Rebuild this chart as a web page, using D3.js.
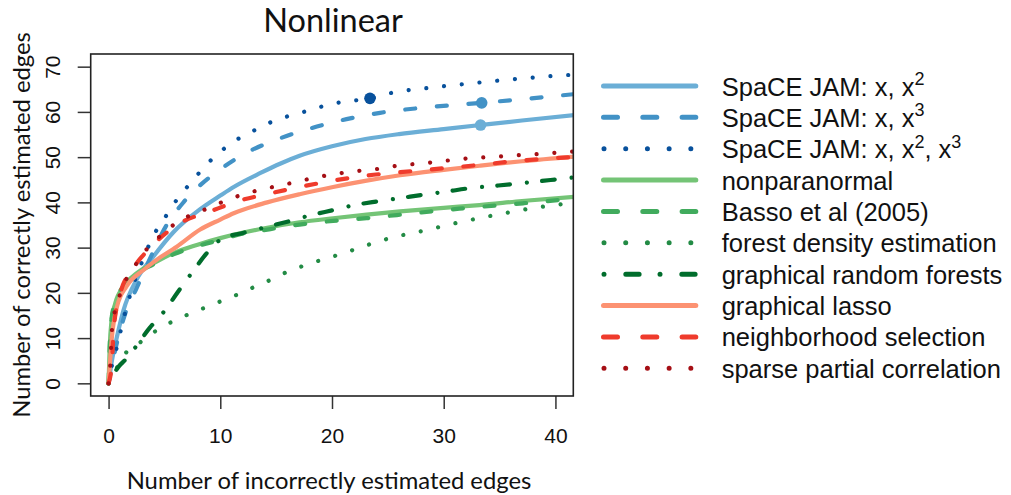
<!DOCTYPE html>
<html>
<head>
<meta charset="utf-8">
<script src="https://cdn.jsdelivr.net/npm/d3@7"></script>
<style>
  html, body { margin: 0; padding: 0; background: #fff; }
  svg { display: block; }
</style>
</head>
<body>
<svg id="chart" width="1011" height="495"></svg>
<script>
// ---- data: [false edges, true edges] along each method's path ----
const jam12 = [[0,0],[0.3,5],[0.75,10.3],[1.34,16.2],[2.5,22.9],[4,28],[5.8,33.4],[8.2,38.5],[10,41.5],[11.2,43.4],[13.6,46.5],[15.4,48.6],[17.1,50.3],[20,52.4],[23,54],[26,55.1],[30,56.2],[33.3,57.1],[37,58.1],[42,59.4]];
const jam13 = [[0,0],[0.6,7.4],[1.5,15.5],[2.5,21],[3.6,27],[5.2,35],[6.7,40],[8.2,43.8],[10,47.3],[12,50.5],[15.4,54.2],[18,56.3],[21.3,58.4],[24.3,59.8],[28,60.9],[33.4,62],[37,62.8],[42,64]];
const jam123 = [[0,0],[0.3,4],[0.75,8.1],[1.1,11.8],[1.5,15.8],[1.9,19.3],[3,26.9],[4.3,33.9],[5.2,37.2],[6.05,40.4],[7.1,43.6],[8.1,46.5],[9.2,49.4],[10.3,51.8],[11.7,54.2],[13.1,56],[14.5,57.7],[16,59],[17.6,60.1],[19.1,61.2],[20.7,62.1],[23.4,63],[25.3,64.2],[29,65.4],[33.2,66.5],[37,67.4],[42,68.3]];
const nonparanormal = [[0,0],[0.1,8],[0.25,13.5],[0.6,17.7],[1.34,21.4],[2.5,24.3],[4,26.5],[5.8,28.8],[7.9,30.6],[10,32.1],[14.2,34.4],[17.1,35.6],[20.1,36.5],[23.1,37.3],[26.1,38],[30,38.8],[33.2,39.4],[37,40.3],[42,41.3]];
const basso = [[0,0],[0.1,8],[0.25,14],[0.6,18],[1.34,21.5],[2.5,24.2],[4,26.3],[5.8,28.5],[7.9,30.3],[10,31.7],[11.7,32.9],[14.5,34.1],[17.1,35.1],[20.1,35.9],[23.1,36.5],[25.8,37.2],[31.4,38.6],[37.1,39.8],[42,40.9]];
const forestDensity = [[0,0],[0.9,4.1],[1.6,6.9],[2.5,8.4],[3.3,10],[4.5,12],[5.9,13.9],[7.4,15.5],[8.9,17],[10.3,18.4],[11.8,19.9],[13.2,21.5],[14.8,23.2],[16.2,24.9],[17.6,26.1],[19.2,27.4],[20.7,28.5],[23.7,31],[25.2,32.1],[28.3,33.8],[31.4,35.6],[34.6,37.2],[37.7,38.6],[40.9,39.7],[42,40]];
const randomForests = [[0,0],[0.9,3.7],[1.5,5.2],[3.7,12.3],[5.1,16.3],[6.2,20.2],[7.5,24.6],[8.8,28.8],[10.1,31.9],[12.1,33.3],[14.2,34.6],[16.1,35.8],[18,37.1],[20.1,38.3],[22,39.4],[24,40.2],[26,40.9],[28.2,41.7],[30.3,42.4],[32.2,43.1],[34.3,43.6],[36.4,44.1],[38.3,44.6],[40.5,45.2],[42,45.6]];
const glasso = [[0,0],[0.3,10.3],[0.75,16.9],[1.6,21.4],[3.1,25],[4.3,27.3],[6.1,30.2],[8.2,34],[10,36.2],[11.2,37.6],[14.2,40],[17.1,41.8],[20.1,43.4],[23.1,44.8],[26.1,46],[30,47.2],[33.2,48.1],[37,49.1],[42,50.2]];
const neighborhood = [[0,0],[0.3,4.4],[0.45,11.8],[1.05,19.9],[2.2,25.4],[3.7,29.9],[6.4,35.4],[9.1,38],[11.6,40.3],[14.5,42],[17.3,43.5],[20.1,44.8],[23,45.9],[25.8,46.6],[31.6,47.9],[37.3,49.3],[42,50.1]];
const sparsePartial = [[0,0],[0.15,4],[0.3,11.8],[1,19.5],[1.6,23.1],[2.5,26.5],[3.6,30.2],[4.5,32.3],[5.8,35],[7.2,37],[8.6,38.4],[10.1,40],[11.6,41.4],[13.1,42.5],[14.7,43.4],[16.2,44.2],[17.8,45.1],[19.4,45.9],[20.9,46.5],[22.5,47],[24.1,47.4],[25.6,48],[28.8,48.8],[32,49.7],[35.2,50.2],[38.4,50.7],[42,51.3]];

// highlighted operating points on the SpaCE JAM curves
const markerX = [33.3, 33.4, 23.4];
const markerY = [57.1, 62, 63];
const markerSeries = [0, 1, 2];

const seriesNames = [
  ["SpaCE JAM: x, x", ["2"]],
  ["SpaCE JAM: x, x", ["3"]],
  ["SpaCE JAM: x, x", ["2", ", x", "3"]],
  ["nonparanormal", []],
  ["Basso et al (2005)", []],
  ["forest density estimation", []],
  ["graphical random forests", []],
  ["graphical lasso", []],
  ["neighborhood selection", []],
  ["sparse partial correlation", []]
];
const seriesData = [jam12, jam13, jam123, nonparanormal, basso, forestDensity, randomForests, glasso, neighborhood, sparsePartial];
const seriesColors = ["#6baed6", "#4292c6", "#08519c", "#74c476", "#41ab5d", "#238b45", "#006d2c", "#fc9272", "#ef3b2c", "#a50f15"];
const seriesStyle = ["solid", "dashed", "dotted", "solid", "dashed", "dotted", "dotdash", "solid", "dashed", "dotted"];

const xTicks = [0, 10, 20, 30, 40];
const yTicks = [0, 10, 20, 30, 40, 50, 60, 70];

// ---- layout ----
const svg = d3.select("#chart");
const box = { left: 90.7, right: 573.3, top: 54, bottom: 396 };

const x = d3.scaleLinear().domain([-1.6, 41.6]).range([box.left, box.right]);
const y = d3.scaleLinear().domain([-2.8, 72.8]).range([box.bottom, box.top]);

const plotDash = { solid: null, dashed: "10 21.7", dotted: "0.01 17.8", dotdash: "0.01 15.3 12.7 17" };
const keyDash  = { solid: null, dashed: "14 25.3", dotted: "0.01 21.7", dotdash: "0.01 21.8 13.3 20.9" };

const sansFont = "'Liberation Sans', Arial, Helvetica, sans-serif";
const labelFont = "Lato, 'Open Sans', sans-serif";

svg.append("defs").append("clipPath").attr("id", "plot-clip")
  .append("rect")
  .attr("x", box.left).attr("y", box.top)
  .attr("width", box.right - box.left).attr("height", box.bottom - box.top);

// ---- curves ----
const line = d3.line()
  .x(d => x(d[0]))
  .y(d => y(d[1]))
  .curve(d3.curveMonotoneX);

const curves = svg.append("g").attr("clip-path", "url(#plot-clip)");
seriesData.forEach((data, i) => {
  curves.append("path")
    .datum(data)
    .attr("d", line)
    .attr("fill", "none")
    .attr("stroke", seriesColors[i])
    .attr("stroke-width", 4.2)
    .attr("stroke-linecap", "round")
    .attr("stroke-linejoin", "round")
    .attr("stroke-dasharray", plotDash[seriesStyle[i]]);
});

curves.selectAll("circle.marker")
  .data(markerX.map((mx, i) => ({ x: mx, y: markerY[i], s: markerSeries[i] })))
  .join("circle")
  .attr("class", "marker")
  .attr("cx", d => x(d.x))
  .attr("cy", d => y(d.y))
  .attr("r", 5.8)
  .attr("fill", d => seriesColors[d.s]);

// ---- axes ----
const xAxis = svg.append("g")
  .attr("transform", `translate(0,${box.bottom})`)
  .call(d3.axisBottom(x).tickValues(xTicks).tickSize(13).tickSizeOuter(0));
xAxis.select(".domain").remove();
xAxis.selectAll(".tick line").attr("stroke", "#333").attr("stroke-width", 1.5);
xAxis.selectAll(".tick text")
  .attr("y", 46.7).attr("dy", null)
  .attr("fill", "#111")
  .style("font-family", sansFont)
  .style("font-size", "21px");

const yAxis = svg.append("g")
  .attr("transform", `translate(${box.left},0)`)
  .call(d3.axisLeft(y).tickValues(yTicks).tickSize(13).tickSizeOuter(0));
yAxis.select(".domain").remove();
yAxis.selectAll(".tick line").attr("stroke", "#333").attr("stroke-width", 1.5);
yAxis.selectAll(".tick text")
  .attr("x", null).attr("dy", null)
  .attr("transform", "translate(-30.7,0) rotate(-90)")
  .attr("text-anchor", "middle")
  .attr("fill", "#111")
  .style("font-family", sansFont)
  .style("font-size", "21px");

// plot frame
svg.append("rect")
  .attr("x", box.left).attr("y", box.top)
  .attr("width", box.right - box.left).attr("height", box.bottom - box.top)
  .attr("fill", "none")
  .attr("stroke", "#222")
  .attr("stroke-width", 1.6);

// ---- titles ----
svg.append("text")
  .attr("x", 333).attr("y", 31.7)
  .attr("text-anchor", "middle")
  .style("font-family", labelFont)
  .style("font-size", "32.5px")
  .attr("fill", "#111")
  .text("Nonlinear");

svg.append("text")
  .attr("x", 329).attr("y", 489)
  .attr("text-anchor", "middle")
  .style("font-family", labelFont)
  .style("font-size", "23.8px")
  .attr("fill", "#111")
  .text("Number of incorrectly estimated edges");

svg.append("text")
  .attr("transform", "translate(29.5,225) rotate(-90)")
  .attr("text-anchor", "middle")
  .style("font-family", labelFont)
  .style("font-size", "23.8px")
  .attr("fill", "#111")
  .text("Number of correctly estimated edges");

// ---- legend ----
const legend = svg.append("g");
const rowY0 = 86, rowStep = 31.37;
seriesNames.forEach((entry, i) => {
  const ly = rowY0 + i * rowStep;
  const style = seriesStyle[i];
  const x0 = style === "dotted" || style === "dotdash" ? 604 : 603.5;
  legend.append("line")
    .attr("x1", x0).attr("x2", 695.8)
    .attr("y1", ly).attr("y2", ly)
    .attr("stroke", seriesColors[i])
    .attr("stroke-width", 5)
    .attr("stroke-linecap", "round")
    .attr("stroke-dasharray", keyDash[style]);

  const t = legend.append("text")
    .attr("x", 721.7).attr("y", ly + 9.5)
    .style("font-family", sansFont)
    .style("font-size", "25.5px")
    .attr("fill", "#111");
  t.append("tspan").text(entry[0]);
  // alternate superscript / normal pieces
  entry[1].forEach((piece, k) => {
    if (k % 2 === 0) {
      t.append("tspan").attr("dy", -10.5).style("font-size", "18px").text(piece);
    } else {
      t.append("tspan").attr("dy", 10.5).text(piece);
    }
  });
});
</script>
</body>
</html>
